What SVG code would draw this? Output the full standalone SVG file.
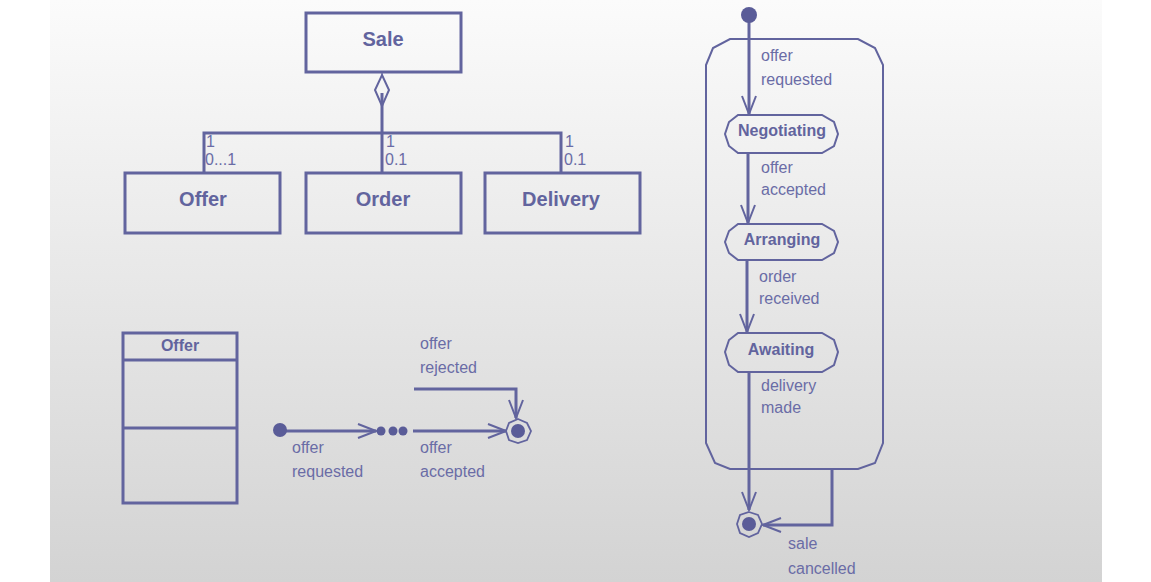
<svg xmlns="http://www.w3.org/2000/svg" width="1151" height="582" viewBox="0 0 1151 582">
<defs>
<linearGradient id="bg" x1="0" y1="0" x2="0" y2="1">
<stop offset="0" stop-color="#fbfbfb"/>
<stop offset="1" stop-color="#d3d3d3"/>
</linearGradient>
<marker id="open" viewBox="0 0 20 16" refX="19" refY="8" markerWidth="20" markerHeight="16" markerUnits="userSpaceOnUse" orient="auto">
<path d="M1,1 L19,8 L1,15" fill="none" stroke="#62649e" stroke-width="2"/>
</marker>
</defs>
<style>
.box{fill:none;stroke:#62649e;stroke-width:3}
.st{fill:none;stroke:#62649e;stroke-width:2}
.ln{fill:none;stroke:#62649e;stroke-width:3}
.ttl{font-family:"Liberation Sans",Arial,sans-serif;font-weight:bold;font-size:20px;fill:#62649e;text-anchor:middle}
.stt{font-family:"Liberation Sans",Arial,sans-serif;font-weight:bold;font-size:16px;fill:#62649e;text-anchor:middle}
.lbl{font-family:"Liberation Sans",Arial,sans-serif;font-size:16px;fill:#6a6ca6}
.dot{fill:#5a5c98}
</style>
<rect x="0" y="0" width="1151" height="582" fill="#ffffff"/>
<rect x="50" y="0" width="1052" height="582" fill="url(#bg)"/>

<g id="connectors">
<line x1="382" y1="73" x2="382" y2="76" stroke="#62649e" stroke-width="1"/>
<path d="M382,75 L389,90 L382,106 L375,90 Z" class="st"/>
<path d="M382,93 L382,133" class="ln"/>
<path d="M204,173 L204,133 L561,133 L561,173" class="ln"/>
<path d="M382,133 L382,173" class="ln"/>
<path d="M280,431 L376,431" class="ln" marker-end="url(#open)"/>
<path d="M413,431 L506,431" class="ln" marker-end="url(#open)"/>
<path d="M414,389 L516,389 L516,418" class="ln" marker-end="url(#open)"/>
<path d="M749,15 L749,114" class="ln" marker-end="url(#open)"/>
<path d="M748,153 L748,223" class="ln" marker-end="url(#open)"/>
<path d="M747,260 L747,332" class="ln" marker-end="url(#open)"/>
<path d="M749,372 L749,510" class="ln" marker-end="url(#open)"/>
<path d="M832,469 L832,525 L763,525" class="ln" marker-end="url(#open)"/>
</g>

<g id="sale">
<rect x="306" y="13" width="155" height="59" class="box"/>
<text x="383" y="46" class="ttl">Sale</text>
</g>
<g id="offer">
<rect x="125" y="173" width="155" height="60" class="box"/>
<text x="203" y="206" class="ttl">Offer</text>
</g>
<g id="order">
<rect x="306" y="173" width="155" height="60" class="box"/>
<text x="383" y="206" class="ttl">Order</text>
</g>
<g id="delivery">
<rect x="485" y="173" width="155" height="60" class="box"/>
<text x="561" y="206" class="ttl">Delivery</text>
</g>
<g id="multiplicities">
<text x="206" y="147" class="lbl">1</text>
<text x="205" y="165" class="lbl">0...1</text>
<text x="386" y="147" class="lbl">1</text>
<text x="385" y="165" class="lbl">0.1</text>
<text x="565" y="147" class="lbl">1</text>
<text x="564" y="165" class="lbl">0.1</text>
</g>

<g id="offer-class">
<rect x="123" y="333" width="114" height="170" class="box"/>
<line x1="123" y1="360" x2="237" y2="360" class="box"/>
<line x1="123" y1="428" x2="237" y2="428" class="box"/>
<text x="180" y="351" class="stt">Offer</text>
</g>

<g id="small-initial">
<circle cx="280" cy="430" r="7" class="dot"/>
</g>
<g id="small-activity">
<circle cx="381" cy="431" r="4.5" class="dot"/>
<circle cx="393" cy="431" r="4.5" class="dot"/>
<circle cx="403" cy="431" r="4.5" class="dot"/>
</g>
<g id="small-final">
<polygon points="518,419 527,423 531,431 527,440 518,443 509,440 506,431 509,423" fill="none" stroke="#62649e" stroke-width="1.8"/>
<circle cx="518" cy="431" r="7" class="dot"/>
</g>
<g id="small-labels">
<text x="292" y="453" class="lbl">offer</text>
<text x="292" y="477" class="lbl">requested</text>
<text x="420" y="349" class="lbl">offer</text>
<text x="420" y="373" class="lbl">rejected</text>
<text x="420" y="453" class="lbl">offer</text>
<text x="420" y="477" class="lbl">accepted</text>
</g>

<g id="container">
<path d="M730,39 L858,39 L875,48 L883,65 L883,443 L875,463 L858,469 L730,469 L715,463 L706,443 L706,65 L713,48 Z" class="st"/>
</g>
<g id="initial">
<circle cx="749" cy="15" r="8" class="dot"/>
</g>
<g id="negotiating">
<polygon points="738,115 822,115 834,122 838,134 834,146 822,153 738,153 729,146 725,134 729,122" fill="none" stroke="#62649e" stroke-width="2"/>
<text x="782" y="136" class="stt">Negotiating</text>
</g>
<g id="arranging">
<polygon points="738,224 822,224 834,231 838,242 834,253 822,260 738,260 729,253 725,242 729,231" fill="none" stroke="#62649e" stroke-width="2"/>
<text x="782" y="245" class="stt">Arranging</text>
</g>
<g id="awaiting">
<polygon points="738,333 822,333 834,340 838,352 834,365 822,372 738,372 729,365 725,352 729,340" fill="none" stroke="#62649e" stroke-width="2"/>
<text x="781" y="355" class="stt">Awaiting</text>
</g>
<g id="final">
<polygon points="749,512 758,515 762,524 758,533 749,537 740,533 737,524 740,515" fill="none" stroke="#62649e" stroke-width="1.8"/>
<circle cx="749" cy="524" r="7" class="dot"/>
</g>
<g id="right-labels">
<text x="761" y="61" class="lbl">offer</text>
<text x="761" y="85" class="lbl">requested</text>
<text x="761" y="173" class="lbl">offer</text>
<text x="761" y="195" class="lbl">accepted</text>
<text x="759" y="282" class="lbl">order</text>
<text x="759" y="304" class="lbl">received</text>
<text x="761" y="391" class="lbl">delivery</text>
<text x="761" y="413" class="lbl">made</text>
<text x="788" y="549" class="lbl">sale</text>
<text x="788" y="574" class="lbl">cancelled</text>
</g>
</svg>
